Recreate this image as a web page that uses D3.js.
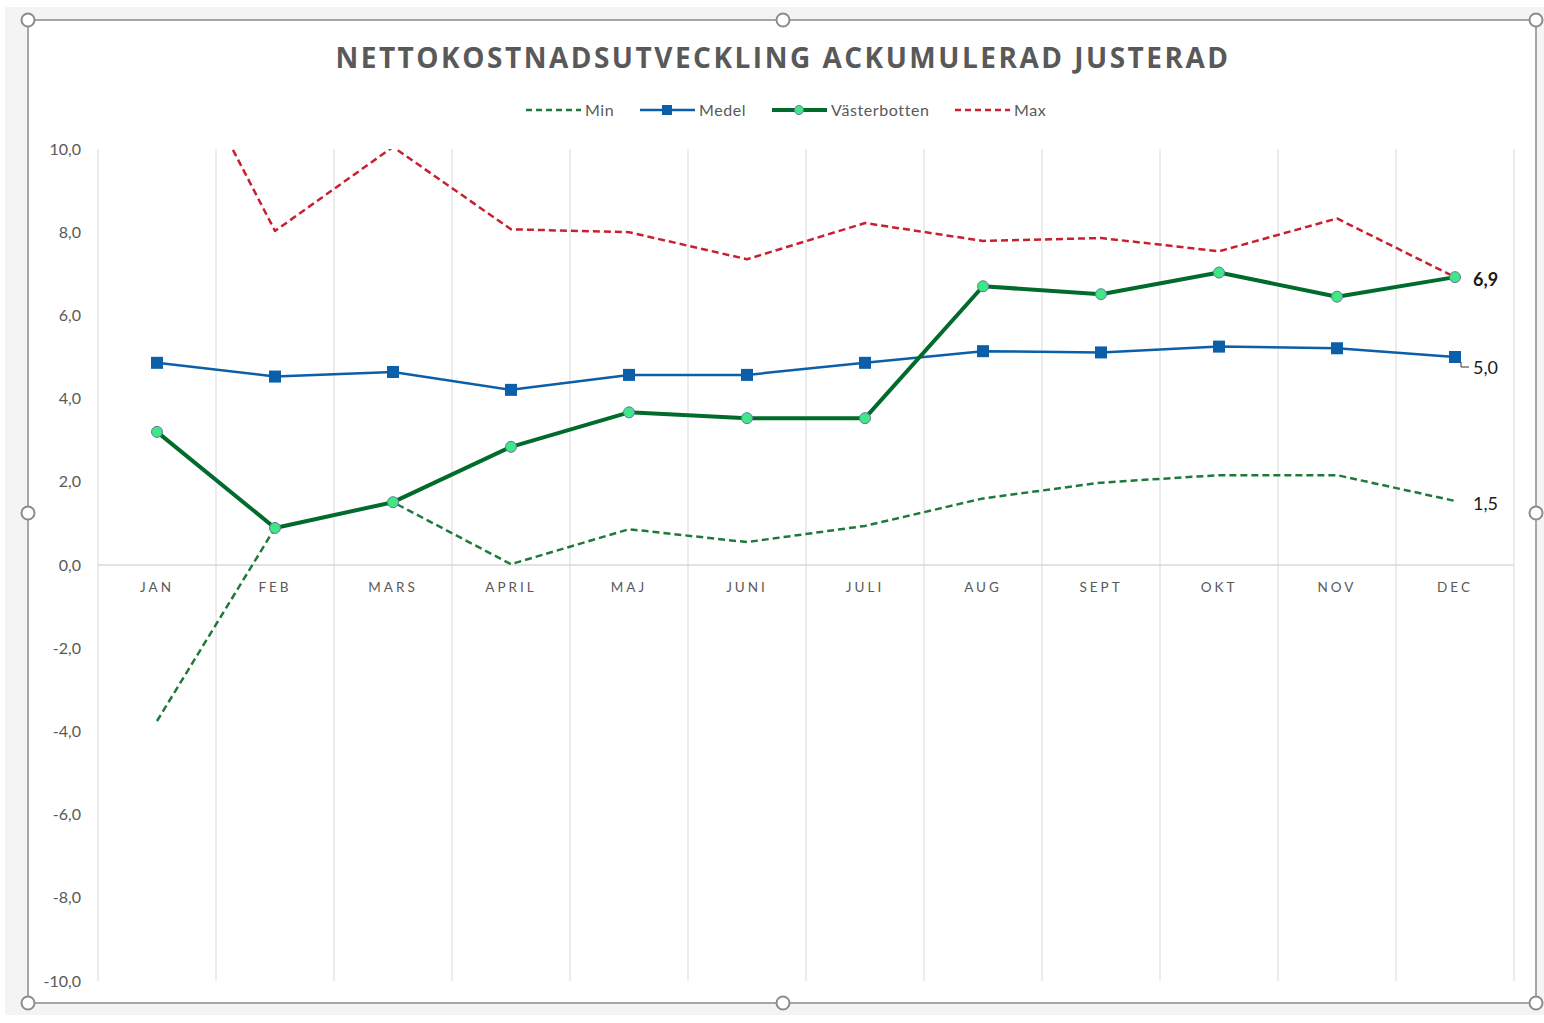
<!DOCTYPE html>
<html>
<head>
<meta charset="utf-8">
<script src="https://cdn.jsdelivr.net/npm/d3@7"></script>
<style>
  body { margin: 0; background: #fff; }
  svg { display: block; }
</style>
</head>
<body>
<script>

// data
var months = ["JAN", "FEB", "MARS", "APRIL", "MAJ", "JUNI", "JULI", "AUG", "SEPT", "OKT", "NOV", "DEC"];
var minVals = [-3.75, 0.89, 1.51, 0.02, 0.86, 0.55, 0.94, 1.60, 1.98, 2.16, 2.16, 1.54];
var medelVals = [4.86, 4.53, 4.64, 4.21, 4.57, 4.57, 4.86, 5.14, 5.11, 5.25, 5.21, 5.00];
var vbVals = [3.20, 0.89, 1.51, 2.84, 3.67, 3.53, 3.53, 6.70, 6.51, 7.03, 6.45, 6.92];
var maxVals = [13.5, 8.03, 10.05, 8.07, 8.00, 7.35, 8.22, 7.79, 7.86, 7.54, 8.33, 6.92];
var yTicks = [-10, -8, -6, -4, -2, 0, 2, 4, 6, 8, 10];
var endLabels = [["vb", "6,9"], ["medel", "5,0"], ["min", "1,5"]];

var W = 1544, H = 1023;
var svg = d3.select("body").append("svg").attr("width", W).attr("height", H);

// grey surround + chart area (Excel selection frame look)
svg.append("rect").attr("x", 5).attr("y", 7).attr("width", W - 5).attr("height", 1008).attr("fill", "#f4f4f4");
svg.append("rect").attr("x", 28).attr("y", 20).attr("width", 1508).attr("height", 983)
    .attr("fill", "#fff").attr("stroke", "#a6a6a6").attr("stroke-width", 2);

var x = d3.scaleBand().domain(months).range([98, 1514]);
var y = d3.scaleLinear().domain([-10, 10]).range([981, 149]);
var cx = function(m) { return x(m) + x.bandwidth() / 2; };

// vertical gridlines at category edges
var edges = months.map(function(m) { return x(m); }).concat([x.range()[1]]);
svg.append("g").selectAll("line").data(edges).join("line")
    .attr("x1", function(d) { return d; }).attr("x2", function(d) { return d; })
    .attr("y1", y(10)).attr("y2", y(-10))
    .attr("stroke", "#d9d9d9").attr("stroke-width", 1);

svg.append("line").attr("x1", 98).attr("x2", 1514).attr("y1", y(0)).attr("y2", y(0))
    .attr("stroke", "#d9d9d9").attr("stroke-width", 1.5);

// y axis
var yAxis = svg.append("g").attr("transform", "translate(86,0)")
    .call(d3.axisLeft(y).tickValues(yTicks).tickSize(0).tickPadding(5)
        .tickFormat(function(d) { return d3.format(".1f")(d).replace(".", ",").replace("−", "-"); }));
yAxis.select(".domain").remove();
yAxis.selectAll("text").attr("font-family", "Lato, 'Open Sans', sans-serif").attr("font-size", 16).attr("fill", "#595959");

// category axis
var xAxis = svg.append("g").attr("transform", "translate(0," + y(0) + ")")
    .call(d3.axisBottom(x).tickSize(0).tickPadding(17));
xAxis.select(".domain").remove();
xAxis.selectAll("text").attr("font-family", "Lato, 'Open Sans', sans-serif").attr("font-size", 13.5)
    .attr("letter-spacing", "3px").attr("fill", "#595959");

// clip for the off-scale max value
svg.append("clipPath").attr("id", "plotClip").append("rect")
    .attr("x", 98).attr("y", y(10)).attr("width", 1416).attr("height", y(-10) - y(10));

var line = d3.line().x(function(d, i) { return cx(months[i]); }).y(function(d) { return y(d); });
var lines = svg.append("g").attr("clip-path", "url(#plotClip)");

var series = {
    min: {vals: minVals, color: "#1f7a3a", width: 2.5, dash: "7,4"},
    medel: {vals: medelVals, color: "#0b5ea8", width: 2.5, dash: null},
    vb: {vals: vbVals, color: "#006b2a", width: 4, dash: null},
    max: {vals: maxVals, color: "#c8202e", width: 2.5, dash: "7,4"}
};

["max", "min", "medel", "vb"].forEach(function(k) {
    var s = series[k];
    lines.append("path").attr("d", line(s.vals)).attr("fill", "none")
        .attr("stroke", s.color).attr("stroke-width", s.width)
        .attr("stroke-dasharray", s.dash).attr("stroke-linejoin", "round");
});

svg.append("g").selectAll("rect").data(medelVals).join("rect")
    .attr("x", function(d, i) { return cx(months[i]) - 6; })
    .attr("y", function(d) { return y(d) - 6; })
    .attr("width", 12).attr("height", 12).attr("fill", "#0b5ea8");

svg.append("g").selectAll("circle").data(vbVals).join("circle")
    .attr("cx", function(d, i) { return cx(months[i]); })
    .attr("cy", function(d) { return y(d); })
    .attr("r", 5.5).attr("fill", "#3ee884").attr("stroke", "#6a74a8").attr("stroke-width", 1);

// end labels
var last = months[months.length - 1];
endLabels.forEach(function(l) {
    var v = series[l[0]].vals[months.length - 1];
    var ly = y(v) + (l[0] === "medel" ? 11 : 3);
    svg.append("text").attr("x", cx(last) + 18).attr("y", ly).attr("dy", "0.35em")
        .attr("font-family", "Lato, 'Open Sans', sans-serif").attr("font-size", 18)
        .attr("font-weight", l[0] === "vb" ? "bold" : "normal")
        .attr("fill", "#1a1a1a").text(l[1]);
});
// little leader for the Medel label
var mx = cx(last), my = y(medelVals[medelVals.length - 1]);
svg.append("path").attr("d", "M" + (mx + 6) + "," + (my + 5) + "V" + (my + 10) + "H" + (mx + 14))
    .attr("fill", "none").attr("stroke", "#333").attr("stroke-width", 1);

// title
svg.append("text").attr("x", 783).attr("y", 68).attr("text-anchor", "middle")
    .attr("font-family", "'Open Sans', sans-serif").attr("font-weight", "bold").attr("font-size", 28)
    .attr("letter-spacing", "2.5px").attr("fill", "#595959")
    .text("NETTOKOSTNADSUTVECKLING ACKUMULERAD JUSTERAD");

// legend
var legendItems = [
    {name: "Min", key: "min", x: 526},
    {name: "Medel", key: "medel", x: 640},
    {name: "Västerbotten", key: "vb", x: 772},
    {name: "Max", key: "max", x: 955}
];
var lg = svg.append("g");
legendItems.forEach(function(it) {
    var s = series[it.key];
    var ly = 110;
    lg.append("line").attr("x1", it.x).attr("x2", it.x + 55).attr("y1", ly).attr("y2", ly)
        .attr("stroke", s.color).attr("stroke-width", s.width).attr("stroke-dasharray", s.dash ? "6,4" : null);
    if (it.key === "medel") {
        lg.append("rect").attr("x", it.x + 22).attr("y", ly - 5).attr("width", 10).attr("height", 10).attr("fill", s.color);
    }
    if (it.key === "vb") {
        lg.append("circle").attr("cx", it.x + 27).attr("cy", ly).attr("r", 4.5)
            .attr("fill", "#3ee884").attr("stroke", "#6a74a8");
    }
    lg.append("text").attr("x", it.x + 59).attr("y", ly).attr("dy", "0.35em")
        .attr("font-family", "Lato, 'Open Sans', sans-serif").attr("font-size", 16)
        .attr("letter-spacing", "0.6px").attr("fill", "#595959").text(it.name);
});

// selection handles
var handles = [[28, 20], [783, 20], [1536, 20], [28, 513], [1536, 513], [28, 1003], [783, 1003], [1536, 1003]];
svg.append("g").selectAll("circle").data(handles).join("circle")
    .attr("cx", function(d) { return d[0]; }).attr("cy", function(d) { return d[1]; })
    .attr("r", 6.5).attr("fill", "#fff").attr("stroke", "#8c8c8c").attr("stroke-width", 2);

</script>
</body>
</html>
